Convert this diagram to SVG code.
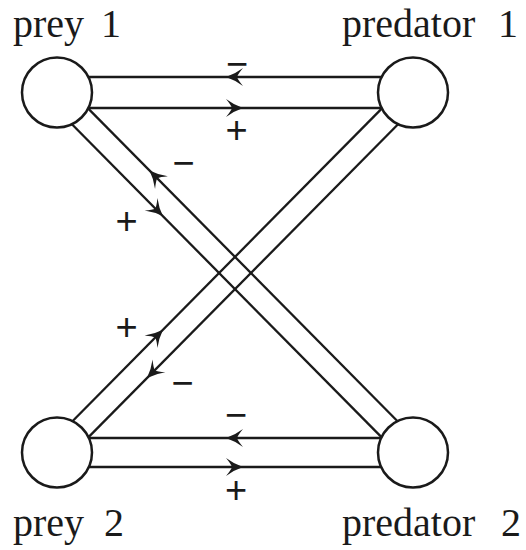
<svg xmlns="http://www.w3.org/2000/svg" xmlns:xlink="http://www.w3.org/1999/xlink" width="526" height="550" viewBox="0 0 526 550">
<style>
.node{fill:#fff;stroke:#1a1a1a;stroke-width:2.5}
.lbl{font-family:"Liberation Serif","Times New Roman",serif;font-size:40px;fill:#1a1a1a}
.sign{font-family:"Liberation Sans",Arial,sans-serif;font-size:38px;fill:#1a1a1a;text-anchor:middle}
.edge{stroke:#1a1a1a;stroke-width:2.3;fill:none}
.ah{fill:#1a1a1a}
</style>
<defs>
<path id="ah" d="M0,0 Q-9,-3 -17,-9 Q-12,-3 -11,0 Q-12,3 -17,9 Q-9,3 0,0 Z"/>
</defs>
<rect width="526" height="550" fill="#fff"/>
<g id="connectors">
<line class="edge" x1="88.4" y1="77" x2="381.6" y2="77"/>
<line class="edge" x1="88.4" y1="108" x2="381.6" y2="108"/>
<line class="edge" x1="88.4" y1="438" x2="381.6" y2="438"/>
<line class="edge" x1="88.4" y1="467" x2="381.6" y2="467"/>
<line class="edge" x1="88.3" y1="108.6" x2="397.8" y2="421.5"/>
<line class="edge" x1="72.2" y1="124.5" x2="381.7" y2="437.4"/>
<line class="edge" x1="72.2" y1="421.5" x2="381.7" y2="108.6"/>
<line class="edge" x1="88.3" y1="437.4" x2="397.8" y2="124.5"/>
<use xlink:href="#ah" class="ah" transform="translate(226,77) rotate(180)"/>
<use xlink:href="#ah" class="ah" transform="translate(243,108)"/>
<use xlink:href="#ah" class="ah" transform="translate(226,438) rotate(180)"/>
<use xlink:href="#ah" class="ah" transform="translate(243,467)"/>
<use xlink:href="#ah" class="ah" transform="translate(149.5,170.5) rotate(225.3)"/>
<use xlink:href="#ah" class="ah" transform="translate(163,216.3) rotate(45.3)"/>
<use xlink:href="#ah" class="ah" transform="translate(163,329.7) rotate(-45.3)"/>
<use xlink:href="#ah" class="ah" transform="translate(147,378) rotate(134.7)"/>
<text class="sign" x="237" y="77">−</text>
<text class="sign" x="236.5" y="142.5">+</text>
<text class="sign" x="236" y="428">−</text>
<text class="sign" x="236" y="502.5">+</text>
<text class="sign" x="183.5" y="176">−</text>
<text class="sign" x="126.5" y="233.5">+</text>
<text class="sign" x="126.5" y="340">+</text>
<text class="sign" x="182.5" y="396">−</text>
</g>
<g id="prey1">
<circle class="node" cx="57" cy="92.5" r="35"/>
<text class="lbl" x="13" y="37">prey</text>
<text class="lbl" x="111" y="37" text-anchor="middle">1</text>
</g>
<g id="predator1">
<circle class="node" cx="413" cy="92.5" r="35"/>
<text class="lbl" x="342" y="37">predator</text>
<text class="lbl" x="508" y="37" text-anchor="middle">1</text>
</g>
<g id="prey2">
<circle class="node" cx="57" cy="452.5" r="35"/>
<text class="lbl" x="13" y="536">prey</text>
<text class="lbl" x="114" y="536" text-anchor="middle">2</text>
</g>
<g id="predator2">
<circle class="node" cx="413" cy="452.5" r="35"/>
<text class="lbl" x="342" y="536">predator</text>
<text class="lbl" x="511" y="536" text-anchor="middle">2</text>
</g>
</svg>
